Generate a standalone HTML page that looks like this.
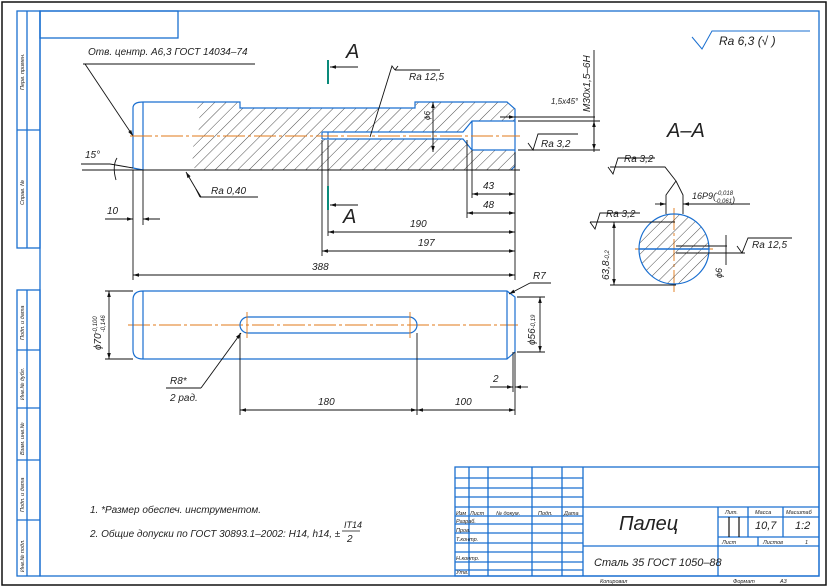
<!DOCTYPE html>
<html><head><meta charset="utf-8"><style>
html,body{margin:0;padding:0;background:#fff}
svg{display:block}
text{font-family:"Liberation Sans Narrow","Liberation Sans",sans-serif;font-style:italic;fill:#222}
</style></head><body>
<svg width="830" height="588" viewBox="0 0 830 588" xmlns="http://www.w3.org/2000/svg">
<defs>
<pattern id="h" patternUnits="userSpaceOnUse" width="8" height="8" patternTransform="rotate(45)">
<line x1="0" y1="0" x2="0" y2="8" stroke="#222" stroke-width="0.8"/>
</pattern>
<marker id="a" viewBox="0 0 10 6" refX="10" refY="3" markerWidth="8" markerHeight="4" orient="auto-start-reverse"><path d="M0,0 L10,3 L0,6z" fill="#111"/></marker>
</defs>
<rect x="2" y="2" width="824" height="583" fill="none" stroke="#111" stroke-width="1.5"/>
<g fill="none" stroke="#1a6fd0" stroke-width="1.3">
<rect x="40" y="11" width="779" height="565"/>
<rect x="40" y="11" width="138" height="27"/>
<rect x="17" y="11" width="23" height="237"/><line x1="27" y1="11" x2="27" y2="248"/><line x1="17" y1="130" x2="40" y2="130"/>
<rect x="17" y="290" width="23" height="286"/><line x1="27" y1="290" x2="27" y2="576"/>
<line x1="17" y1="350" x2="40" y2="350"/><line x1="17" y1="408" x2="40" y2="408"/><line x1="17" y1="460" x2="40" y2="460"/><line x1="17" y1="520" x2="40" y2="520"/>
<rect x="455" y="467" width="364" height="109"/>
<line x1="469" y1="467" x2="469" y2="576"/><line x1="488" y1="467" x2="488" y2="576"/><line x1="532" y1="467" x2="532" y2="576"/><line x1="562" y1="467" x2="562" y2="576"/><line x1="583" y1="467" x2="583" y2="576"/>
<line x1="455" y1="478" x2="583" y2="478"/><line x1="455" y1="488" x2="583" y2="488"/><line x1="455" y1="497" x2="583" y2="497"/><line x1="455" y1="507" x2="819" y2="507"/><line x1="455" y1="516" x2="583" y2="516"/><line x1="455" y1="524" x2="583" y2="524"/><line x1="455" y1="533" x2="583" y2="533"/><line x1="455" y1="543" x2="583" y2="543"/><line x1="455" y1="552" x2="583" y2="552"/><line x1="455" y1="562" x2="583" y2="562"/><line x1="455" y1="570" x2="583" y2="570"/>
<line x1="583" y1="546" x2="819" y2="546"/>
<line x1="718" y1="507" x2="718" y2="576"/><line x1="748" y1="507" x2="748" y2="537"/><line x1="783" y1="507" x2="783" y2="537"/>
<line x1="718" y1="517" x2="819" y2="517"/><line x1="718" y1="537" x2="819" y2="537"/><line x1="758" y1="537" x2="758" y2="546"/>
</g>
<g stroke="#111" stroke-width="1.2"><line x1="729" y1="517" x2="729" y2="537"/><line x1="739" y1="517" x2="739" y2="537"/></g>
<g font-size="5.5">
<text transform="translate(24,90) rotate(-90)">Перв. примен.</text>
<text transform="translate(24,205) rotate(-90)">Справ. №</text>
<text transform="translate(24,340) rotate(-90)">Подп. и дата</text>
<text transform="translate(24,400) rotate(-90)">Инв.№ дубл.</text>
<text transform="translate(24,455) rotate(-90)">Взам. инв.№</text>
<text transform="translate(24,512) rotate(-90)">Подп. и дата</text>
<text transform="translate(24,572) rotate(-90)">Инв.№ подл.</text>
<text x="456" y="515">Изм</text><text x="470" y="515">Лист</text><text x="496" y="515">№ докум.</text><text x="538" y="515">Подп.</text><text x="564" y="515">Дата</text>
<text x="456" y="523">Разраб.</text><text x="456" y="532">Пров.</text><text x="456" y="541">Т.контр.</text><text x="456" y="560">Н.контр.</text><text x="456" y="574">Утв.</text>
<text x="725" y="514">Лит.</text><text x="755" y="514">Масса</text><text x="786" y="514">Масштаб</text>
<text x="722" y="544">Лист</text><text x="763" y="544">Листов</text><text x="805" y="544">1</text>
<text x="600" y="583">Копировал</text><text x="733" y="583">Формат</text><text x="780" y="583">А3</text>
</g>
<text x="619" y="530" font-size="20">Палец</text>
<text x="594" y="566" font-size="11">Сталь 35 ГОСТ 1050–88</text>
<text x="755" y="529" font-size="11">10,7</text><text x="795" y="529" font-size="11">1:2</text>
<path d="M692,37 L702,49 L712,31 L810,31" fill="none" stroke="#1a6fd0" stroke-width="1"/>
<text x="719" y="45" font-size="12">Ra 6,3 (√ )</text>
<path d="M195,102 L240,102 L240,108 L415,108 L415,102 L507,102 L515,109 L515,170 L195,170 Q189,150 197,136 Q203,120 195,102Z" fill="url(#h)"/>
<path d="M322,132 L463,132 L472,121 L515,121 L515,150 L472,150 L463,139 L322,139Z" fill="#fff"/>
<g fill="none" stroke="#1a6fd0" stroke-width="1.2">
<path d="M133,108 Q133,102 143,102 L240,102 L240,108 L415,108 L415,102 L507,102 L515,109 L515,166 L511,170"/>
<line x1="143" y1="102" x2="143" y2="170"/><path d="M133,108 L133,168 L143,170"/>
<path d="M322,132 L463,132 L472,121 L515,121 M322,139 L463,139 L472,150 L515,150 M322,132 L322,139 M328,132 L328,139 M472,121 L472,150"/>
</g>
<g stroke="#111" stroke-width="0.9" fill="none">
<line x1="82" y1="170" x2="520" y2="170"/>
<line x1="133" y1="170" x2="133" y2="280"/><line x1="143" y1="170" x2="143" y2="225"/>
<line x1="515" y1="152" x2="515" y2="280"/><line x1="322" y1="140" x2="322" y2="256"/><line x1="328" y1="140" x2="328" y2="236"/>
<line x1="467" y1="140" x2="467" y2="218"/><line x1="472" y1="150" x2="472" y2="198"/>
<line x1="133" y1="275" x2="515" y2="275" marker-start="url(#a)" marker-end="url(#a)"/>
<line x1="322" y1="251" x2="515" y2="251" marker-start="url(#a)" marker-end="url(#a)"/>
<line x1="328" y1="232" x2="515" y2="232" marker-start="url(#a)" marker-end="url(#a)"/>
<line x1="467" y1="213" x2="515" y2="213" marker-start="url(#a)" marker-end="url(#a)"/>
<line x1="472" y1="194" x2="515" y2="194" marker-start="url(#a)" marker-end="url(#a)"/>
<line x1="105" y1="219" x2="133" y2="219" marker-end="url(#a)"/><line x1="160" y1="219" x2="143" y2="219" marker-end="url(#a)"/>
<line x1="83" y1="64" x2="255" y2="64"/><line x1="85" y1="64" x2="133" y2="136" marker-end="url(#a)"/>
<line x1="81" y1="164" x2="110" y2="164"/><line x1="110" y1="164" x2="133" y2="168"/>
<path d="M117,158 Q112,166 116,180"/>
<line x1="200" y1="197" x2="258" y2="197"/><path d="M201,197 L196,189 L186,172" marker-end="url(#a)"/><path d="M196,189 L200,197"/>
<path d="M395,70 L440,70 M395,70 L398,66 M395,70 L392,66 L370,137"/>
<line x1="433" y1="102" x2="433" y2="152" marker-start="url(#a)" marker-end="url(#a)"/>
<line x1="500" y1="117" x2="595" y2="117"/><line x1="505" y1="117" x2="515" y2="117" marker-end="url(#a)"/>
<line x1="594" y1="50" x2="594" y2="152"/><line x1="518" y1="121" x2="600" y2="121"/><line x1="518" y1="150" x2="600" y2="150"/>
<line x1="594" y1="121" x2="594" y2="150" marker-start="url(#a)" marker-end="url(#a)"/>
<path d="M528,143 L533,150 L538,134 L578,134"/>
</g>
<g stroke="#0a8a7a" stroke-width="2"><line x1="328" y1="60" x2="328" y2="84"/><line x1="328" y1="186" x2="328" y2="210"/></g>
<g stroke="#111" stroke-width="0.9"><line x1="358" y1="67" x2="330" y2="67" marker-end="url(#a)"/><line x1="358" y1="205" x2="330" y2="205" marker-end="url(#a)"/></g>
<g stroke="#e07818" stroke-width="0.9" stroke-dasharray="22 3 3 3"><line x1="130" y1="136" x2="520" y2="136"/><line x1="128" y1="325" x2="518" y2="325"/><line x1="635" y1="249" x2="713" y2="249"/><line x1="674" y1="208" x2="674" y2="292"/></g>
<g font-size="10">
<text x="346" y="58" font-size="20" font-style="normal">A</text><text x="343" y="223" font-size="20" font-style="normal">A</text>
<text x="88" y="55">Отв. центр. А6,3 ГОСТ 14034–74</text>
<text x="85" y="158">15°</text><text x="107" y="214">10</text>
<text x="211" y="194">Ra 0,40</text><text x="409" y="80">Ra 12,5</text>
<text x="551" y="104" font-size="8">1,5х45°</text><text x="541" y="147">Ra 3,2</text>
<text x="483" y="189">43</text><text x="483" y="208">48</text><text x="410" y="227">190</text><text x="418" y="246">197</text><text x="312" y="270">388</text>
<text transform="translate(590,112) rotate(-90)">М30х1,5–6Н</text>
<text transform="translate(430,120) rotate(-90)" font-size="8">ϕ6</text>
<text x="667" y="137" font-size="20" font-style="normal">A–A</text>
</g>
<circle cx="674" cy="249" r="35" fill="url(#h)" stroke="#1a6fd0" stroke-width="1.2"/>
<line x1="639" y1="249" x2="709" y2="249" stroke="#1a6fd0" stroke-width="1.5"/>
<g stroke="#111" stroke-width="0.9" fill="none">
<path d="M608,167 L613,174 L618,158 L655,158 M610,167 L665,167 L676,181 L666,195 L666,214 M676,181 L683,195 L683,214"/>
<line x1="655" y1="204" x2="666" y2="204" marker-end="url(#a)"/><line x1="750" y1="204" x2="683" y2="204" marker-end="url(#a)"/>
<path d="M590,222 L595,229 L600,213 L640,213"/><line x1="590" y1="222" x2="675" y2="222"/><line x1="610" y1="285" x2="676" y2="285"/>
<line x1="614" y1="222" x2="614" y2="285" marker-start="url(#a)" marker-end="url(#a)"/>
<line x1="676" y1="246" x2="727" y2="246"/><line x1="676" y1="253" x2="745" y2="253"/>
<line x1="726" y1="235" x2="726" y2="265"/>
<path d="M737,246 L742,253 L748,238 L792,238"/>
</g>
<g font-size="10"><text x="624" y="162">Ra 3,2</text><text x="606" y="217">Ra 3,2</text><text x="692" y="199" font-size="9">16P9(<tspan font-size="6" dy="-4">-0,018</tspan><tspan font-size="6" dx="-18" dy="8">-0,061</tspan>)</text>
<text x="752" y="248">Ra 12,5</text>
<text transform="translate(609,280) rotate(-90)">63,8<tspan font-size="6">-0,2</tspan></text>
<text transform="translate(722,278) rotate(-90)" font-size="9">ϕ6</text></g>
<g fill="none" stroke="#1a6fd0" stroke-width="1.2">
<path d="M143,291 L507,291 L515,297 L515,352 L507,359 L143,359 M143,291 L143,359 M143,291 Q133,291 133,300 L133,350 Q133,359 143,359"/>
<line x1="507" y1="291" x2="507" y2="359"/>
<path d="M248,317 L409,317 A8,8 0 0 1 409,333 L248,333 A8,8 0 0 1 248,317Z"/>
</g>
<g stroke="#e07818" stroke-width="0.9"><line x1="247" y1="312" x2="247" y2="338"/><line x1="410" y1="312" x2="410" y2="338"/></g>
<g stroke="#111" stroke-width="0.9" fill="none">
<line x1="105" y1="291" x2="133" y2="291"/><line x1="105" y1="359" x2="133" y2="359"/>
<line x1="109" y1="291" x2="109" y2="359" marker-start="url(#a)" marker-end="url(#a)"/>
<line x1="517" y1="297" x2="545" y2="297"/><line x1="517" y1="352" x2="545" y2="352"/>
<line x1="540" y1="297" x2="540" y2="352" marker-start="url(#a)" marker-end="url(#a)"/>
<line x1="240" y1="333" x2="240" y2="415"/><line x1="417" y1="333" x2="417" y2="415"/><line x1="515" y1="352" x2="515" y2="415"/><line x1="513" y1="352" x2="513" y2="392"/>
<line x1="240" y1="410" x2="417" y2="410" marker-start="url(#a)" marker-end="url(#a)"/>
<line x1="417" y1="410" x2="515" y2="410" marker-start="url(#a)" marker-end="url(#a)"/>
<line x1="490" y1="387" x2="513" y2="387" marker-end="url(#a)"/><line x1="528" y1="387" x2="515" y2="387" marker-end="url(#a)"/>
<line x1="166" y1="388" x2="201" y2="388"/><line x1="201" y1="388" x2="241" y2="333" marker-end="url(#a)"/>
<line x1="551" y1="283" x2="530" y2="283"/><line x1="530" y1="283" x2="509" y2="294" marker-end="url(#a)"/>
</g>
<g font-size="10">
<text transform="translate(101,350) rotate(-90)">ϕ70<tspan font-size="6" dy="-4">-0,100</tspan><tspan font-size="6" dx="-16" dy="8">-0,146</tspan></text>
<text transform="translate(535,345) rotate(-90)">ϕ56<tspan font-size="6">-0,19</tspan></text>
<text x="533" y="279">R7</text><text x="170" y="384">R8*</text><text x="170" y="401">2 рад.</text>
<text x="318" y="405">180</text><text x="455" y="405">100</text><text x="493" y="382">2</text>
<text x="90" y="513">1.  *Размер обеспеч. инструментом.</text>
<text x="90" y="537">2.  Общие допуски по ГОСТ 30893.1–2002: H14, h14, ±</text>
<text x="344" y="528" font-size="9">IT14</text><line x1="342" y1="531" x2="360" y2="531" stroke="#111" stroke-width="0.8"/><text x="347" y="542">2</text>
</g>
</svg>
</body></html>
